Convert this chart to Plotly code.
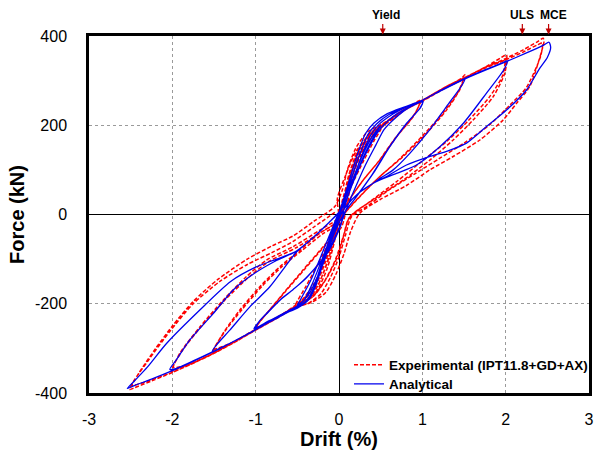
import plotly.graph_objects as go

# ---------------- Data (drift %, force kN) ----------------
# Analytical (blue) - consecutive cycles
BLUE_C1_X = [0, 0.10, 0.20, 0.30, 0.40, 0.48, 0.50, 0.44, 0.32, 0.20, 0.08, -0.02, -0.12, -0.22, -0.32, -0.42, -0.50, -0.46, -0.34, -0.22, -0.10, 0.0]
BLUE_C1_Y = [0, 48, 96, 140, 175, 195, 199, 182, 140, 88, 30, -10, -60, -108, -155, -192, -203, -190, -148, -95, -40, 5]
BLUE_C3_X = [0.06, 0.16, 0.26, 0.36, 0.46, 0.56, 0.70, 0.86, 0.99, 1.01, 0.98, 0.81, 0.61, 0.41, 0.21, 0.08, -0.04, -0.14, -0.24, -0.32, -0.42, -0.56, -0.72, -0.90, -1.00, -1.02, -0.96, -0.87, -0.71, -0.55, -0.39, -0.15, 0.01]
BLUE_C3_Y = [20, 68, 112, 150, 183, 205, 226, 242, 253, 254, 240, 204, 152, 92, 40, 8, -35, -85, -135, -172, -200, -214, -230, -247, -256, -256, -240, -222, -192, -168, -142, -87, -27]
BLUE_C4_X = [0.08, 0.20, 0.32, 0.44, 0.54, 0.64, 0.80, 0.95, 1.00, 0.97, 0.80, 0.60, 0.40, 0.20, 0.06, -0.06, -0.16, -0.26, -0.36, -0.48, -0.62, -0.80, -0.95, -1.00, -0.95, -0.85, -0.69, -0.53, -0.37, -0.13, 0.02]
BLUE_C4_Y = [8, 62, 112, 155, 190, 210, 235, 250, 252, 238, 202, 150, 90, 38, 2, -40, -90, -140, -178, -203, -217, -235, -250, -254, -238, -219, -189, -165, -137, -84, -25]
BLUE_C5_X = [0.06, 0.14, 0.22, 0.30, 0.38, 0.48, 0.62, 0.80, 1.00, 1.25, 1.45, 1.51, 1.47, 1.29, 1.09, 0.85, 0.65, 0.50, 0.41, 0.23, 0.08, -0.02, -0.10, -0.20, -0.28, -0.36, -0.50, -0.65, -0.80, -1.00, -1.25, -1.48, -1.52, -1.45, -1.31, -1.07, -0.83, -0.65, -0.51, -0.30, -0.12, 0.0]
BLUE_C5_Y = [12, 60, 105, 145, 178, 202, 222, 240, 256, 281, 299, 303, 288, 242, 190, 137, 100, 82, 70, 47, 17, -18, -60, -115, -160, -190, -210, -222, -237, -258, -283, -305, -306, -288, -259, -207, -162, -118, -84, -50, -18, 5]
BLUE_C6_X = [0.04, 0.12, 0.20, 0.27, 0.35, 0.45, 0.60, 0.80, 1.00, 1.25, 1.50, 1.75, 1.95, 2.02, 1.98, 1.77, 1.49, 1.21, 0.93, 0.69, 0.50, 0.41, 0.23, 0.08, -0.04, -0.12, -0.22, -0.30, -0.40, -0.55, -0.72, -0.88, -1.00, -1.25, -1.50, -1.75, -1.97, -2.03, -1.95, -1.79, -1.51, -1.27, -1.00, -0.75, -0.51, -0.30, -0.12, 0.0]
BLUE_C6_Y = [20, 65, 110, 145, 180, 203, 224, 241, 256, 281, 304, 324, 339, 344, 325, 272, 204, 152, 111, 92, 78, 70, 47, 17, -22, -65, -122, -165, -195, -212, -228, -242, -258, -283, -306, -328, -346, -347, -325, -281, -222, -169, -130, -103, -82, -50, -18, 5]
BLUE_C7_X = [0.03, 0.10, 0.17, 0.24, 0.32, 0.42, 0.58, 0.80, 1.00, 1.25, 1.50, 1.75, 2.00, 2.25, 2.45, 2.52, 2.54, 2.50, 2.41, 2.25, 2.01, 1.77, 1.53, 1.30, 1.09, 0.81, 0.57, 0.41, 0.23, 0.08, -0.06, -0.14, -0.24, -0.31, -0.42, -0.57, -0.75, -0.90, -1.00, -1.25, -1.50, -1.75, -2.00, -2.25, -2.45, -2.54, -2.45, -2.30, -2.07, -1.67, -1.30, -1.00, -0.75, -0.51, -0.30, -0.12, 0.0]
BLUE_C7_Y = [20, 62, 105, 145, 182, 205, 226, 242, 256, 280, 303, 323, 342, 362, 379, 386, 374, 352, 328, 279, 234, 197, 160, 142, 130, 111, 85, 70, 47, 17, -25, -70, -128, -169, -198, -214, -232, -246, -258, -283, -307, -329, -350, -369, -383, -390, -372, -342, -289, -214, -150, -118, -100, -82, -50, -18, 5]

# Experimental (red dashed) - consecutive cycles
RED_C1_X = [0, 0.06, 0.16, 0.30, 0.44, 0.51, 0.50, 0.42, 0.30, 0.15, 0.04, -0.06, -0.16, -0.30, -0.46, -0.52, -0.50, -0.40, -0.25, -0.10, 0.0]
RED_C1_Y = [0, 45, 100, 150, 186, 198, 190, 165, 122, 65, 15, -40, -100, -155, -195, -202, -194, -162, -110, -55, -12]
RED_C3_X = [-0.02, 0.08, 0.20, 0.36, 0.50, 0.62, 0.77, 0.95, 0.99, 0.95, 0.89, 0.69, 0.49, 0.29, 0.05, -0.04, -0.12, -0.26, -0.48, -0.70, -0.90, -1.01, -0.95, -0.87, -0.67, -0.43, -0.19, 0.01]
RED_C3_Y = [35, 88, 140, 178, 198, 214, 234, 254, 257, 240, 219, 174, 122, 77, 10, -40, -95, -160, -200, -226, -248, -257, -240, -222, -177, -124, -72, -27]
RED_C4_X = [0.06, 0.14, 0.26, 0.40, 0.54, 0.66, 0.82, 0.97, 0.94, 0.87, 0.67, 0.47, 0.27, 0.03, -0.06, -0.16, -0.30, -0.52, -0.72, -0.92, -0.99, -0.93, -0.85, -0.65, -0.41, -0.17, 0.03]
RED_C4_Y = [15, 75, 132, 175, 200, 216, 238, 252, 236, 215, 170, 118, 72, 5, -48, -105, -165, -203, -228, -249, -252, -236, -218, -174, -122, -70, -28]
RED_C5_X = [0.10, 0.16, 0.26, 0.38, 0.52, 0.77, 1.01, 1.29, 1.47, 1.51, 1.45, 1.29, 1.05, 0.77, 0.49, 0.21, 0.01, -0.06, -0.14, -0.28, -0.50, -0.75, -1.00, -1.25, -1.45, -1.52, -1.39, -1.19, -0.95, -0.71, -0.47, -0.23, 0.01]
RED_C5_Y = [25, 85, 140, 180, 200, 234, 257, 287, 305, 313, 280, 234, 182, 130, 85, 33, -12, -65, -120, -175, -205, -232, -258, -285, -303, -310, -266, -214, -162, -117, -80, -42, -12]
RED_C6_X = [0.08, 0.16, 0.28, 0.42, 0.56, 0.80, 1.02, 1.28, 1.45, 1.49, 1.43, 1.25, 1.00, 0.73, 0.45, 0.20, 0.0, -0.08, -0.18, -0.32, -0.54, -0.77, -1.02, -1.27, -1.46, -1.50, -1.37, -1.16, -0.92, -0.68, -0.44, -0.20, 0.03]
RED_C6_Y = [40, 100, 150, 185, 203, 235, 256, 284, 299, 303, 275, 228, 176, 125, 78, 30, -15, -72, -128, -180, -207, -233, -259, -286, -300, -302, -262, -212, -160, -116, -80, -44, -15]
RED_C7_X = [0.06, 0.12, 0.22, 0.36, 0.50, 0.77, 1.01, 1.29, 1.50, 1.77, 1.95, 2.01, 1.99, 1.85, 1.61, 1.37, 1.09, 0.77, 0.41, 0.13, 0.06, -0.02, -0.14, -0.30, -0.50, -0.75, -1.00, -1.25, -1.50, -1.75, -1.96, -2.01, -1.91, -1.67, -1.39, -1.11, -0.87, -0.55, -0.23, 0.01]
RED_C7_Y = [40, 90, 140, 180, 198, 234, 257, 287, 306, 332, 352, 358, 317, 264, 212, 167, 122, 77, 33, -5, -45, -95, -140, -182, -205, -232, -258, -285, -310, -332, -348, -352, -311, -252, -192, -139, -102, -72, -35, -5]
RED_C8_X = [0.08, 0.15, 0.26, 0.40, 0.54, 0.78, 1.02, 1.30, 1.52, 1.78, 1.95, 1.99, 1.96, 1.80, 1.55, 1.30, 1.00, 0.70, 0.38, 0.12, 0.05, -0.04, -0.16, -0.32, -0.52, -0.77, -1.02, -1.27, -1.52, -1.77, -1.95, -1.99, -1.88, -1.64, -1.36, -1.08, -0.84, -0.52, -0.20, 0.03]
RED_C8_Y = [45, 95, 145, 183, 202, 235, 258, 288, 307, 332, 343, 345, 310, 262, 210, 165, 120, 75, 30, -8, -50, -100, -145, -185, -206, -234, -260, -287, -312, -334, -343, -342, -305, -248, -190, -140, -105, -75, -38, -8]
RED_C9_X = [0.08, 0.14, 0.24, 0.38, 0.52, 0.77, 1.01, 1.29, 1.49, 1.77, 1.97, 2.21, 2.38, 2.45, 2.46, 2.43, 2.29, 2.13, 1.97, 1.69, 1.37, 1.09, 0.81, 0.49, 0.25, 0.14, 0.06, -0.04, -0.16, -0.32, -0.52, -0.75, -1.00, -1.25, -1.50, -1.75, -2.00, -2.25, -2.45, -2.51, -2.40, -2.20, -2.00, -1.75, -1.45, -1.10, -0.80, -0.55, -0.30, -0.05]
RED_C9_Y = [45, 95, 145, 183, 202, 234, 257, 287, 305, 331, 347, 369, 387, 395, 388, 365, 287, 249, 212, 167, 130, 100, 65, 33, 3, -38, -88, -135, -175, -196, -208, -233, -259, -286, -311, -333, -354, -373, -388, -392, -355, -300, -250, -195, -145, -100, -70, -48, -15, 18]
RED_C10_X = [0.04, 0.10, 0.20, 0.34, 0.50, 0.77, 1.01, 1.29, 1.49, 1.77, 1.97, 2.21, 2.38, 2.44, 2.42, 2.25, 2.05, 1.80, 1.50, 1.20, 0.90, 0.60, 0.35, 0.15, 0.08, 0.0, -0.10, -0.22, -0.36, -0.54, -0.77, -1.02, -1.27, -1.52, -1.77, -2.02, -2.27, -2.45, -2.49, -2.30, -2.03, -1.75, -1.43, -1.10, -0.80, -0.55, -0.30, -0.05]
RED_C10_Y = [55, 100, 148, 185, 201, 232, 256, 285, 303, 329, 344, 364, 380, 384, 355, 285, 245, 200, 160, 125, 90, 55, 20, -5, -45, -95, -140, -178, -198, -210, -235, -261, -288, -313, -335, -355, -372, -382, -383, -330, -262, -200, -150, -112, -85, -60, -28, 5]

X_TICKS = [-3, -2, -1, 0, 1, 2, 3]
Y_TICKS = [-400, -200, 0, 200, 400]
MARKERS = ["Yield", "ULS", "MCE"]
MARKER_DRIFT = [0.525, 2.2, 2.515]
MARKER_TEXT_X = [0.56, 2.2, 2.57]

blue_x = BLUE_C1_X + BLUE_C3_X + BLUE_C4_X + BLUE_C5_X + BLUE_C6_X + BLUE_C7_X
blue_y = BLUE_C1_Y + BLUE_C3_Y + BLUE_C4_Y + BLUE_C5_Y + BLUE_C6_Y + BLUE_C7_Y
red_x = (RED_C1_X + RED_C3_X + RED_C4_X + RED_C5_X + RED_C6_X + RED_C7_X
         + RED_C8_X + RED_C9_X + RED_C10_X)
red_y = (RED_C1_Y + RED_C3_Y + RED_C4_Y + RED_C5_Y + RED_C6_Y + RED_C7_Y
         + RED_C8_Y + RED_C9_Y + RED_C10_Y)

FONT = "Liberation Sans, Arial, sans-serif"

fig = go.Figure()
fig.add_trace(go.Scatter(
    x=red_x, y=red_y, mode="lines", name="<b>Experimental (IPT11.8+GD+AX)</b>",
    line=dict(color="#FF0000", width=1.5, dash="4px,2px", shape="spline", smoothing=0.7),
    legend="legend",
))
fig.add_trace(go.Scatter(
    x=blue_x, y=blue_y, mode="lines", name="<b>Analytical</b>",
    line=dict(color="#0000EE", width=1.3, shape="spline", smoothing=0.7),
    legend="legend2",
))

annotations = []
for label, xd, xt in zip(MARKERS, MARKER_DRIFT, MARKER_TEXT_X):
    annotations.append(dict(x=xt, y=1, xref="x", yref="paper", text=f"<b>{label}</b>",
                            showarrow=False, yanchor="bottom", yshift=12,
                            font=dict(family=FONT, size=12, color="#000000")))
    annotations.append(dict(x=xd, y=1.004, xref="x", yref="paper", text="",
                            showarrow=True, ax=0, ay=-12, arrowhead=2, arrowsize=1,
                            arrowwidth=1.2, arrowcolor="#C00000", standoff=0))

legend_common = dict(xanchor="left", yanchor="middle", bgcolor="rgba(0,0,0,0)",
                     borderwidth=0, itemwidth=30,
                     font=dict(family=FONT, size=13.5, color="black"))

fig.update_layout(
    width=597, height=457,
    margin=dict(l=89, r=8, t=36, b=64, autoexpand=False),
    paper_bgcolor="white", plot_bgcolor="white",
    font=dict(family=FONT, size=16, color="black"),
    showlegend=True,
    legend=dict(x=0.52, y=0.0784, **legend_common),
    legend2=dict(x=0.52, y=0.0252, **legend_common),
    annotations=annotations,
    shapes=[dict(type="rect", xref="paper", yref="paper", x0=0.52, x1=1, y0=0, y1=0.112,
                 fillcolor="white", line=dict(width=0), layer="between")],
)
fig.update_xaxes(
    range=[-3, 3], tickvals=X_TICKS, ticktext=[str(v) for v in X_TICKS],
    showgrid=True, gridcolor="#9A9A9A", griddash="dot", gridwidth=1,
    zeroline=True, zerolinecolor="black", zerolinewidth=1.3,
    showline=True, mirror=True, linecolor="black", linewidth=2.5,
    ticks="", ticklabelstandoff=10, automargin=False,
    title=dict(text="<b>Drift (%)</b>", font=dict(family=FONT, size=20), standoff=4),
)
fig.update_yaxes(
    range=[-400, 400], tickvals=Y_TICKS, ticktext=[str(v) for v in Y_TICKS],
    showgrid=True, gridcolor="#9A9A9A", griddash="dot", gridwidth=1,
    zeroline=True, zerolinecolor="black", zerolinewidth=1.3,
    showline=True, mirror=True, linecolor="black", linewidth=2.5,
    ticks="", ticklabelstandoff=16, automargin=False,
    title=dict(text="<b>Force (kN)</b>", font=dict(family=FONT, size=20), standoff=6),
)

fig.write_html("out.html")
